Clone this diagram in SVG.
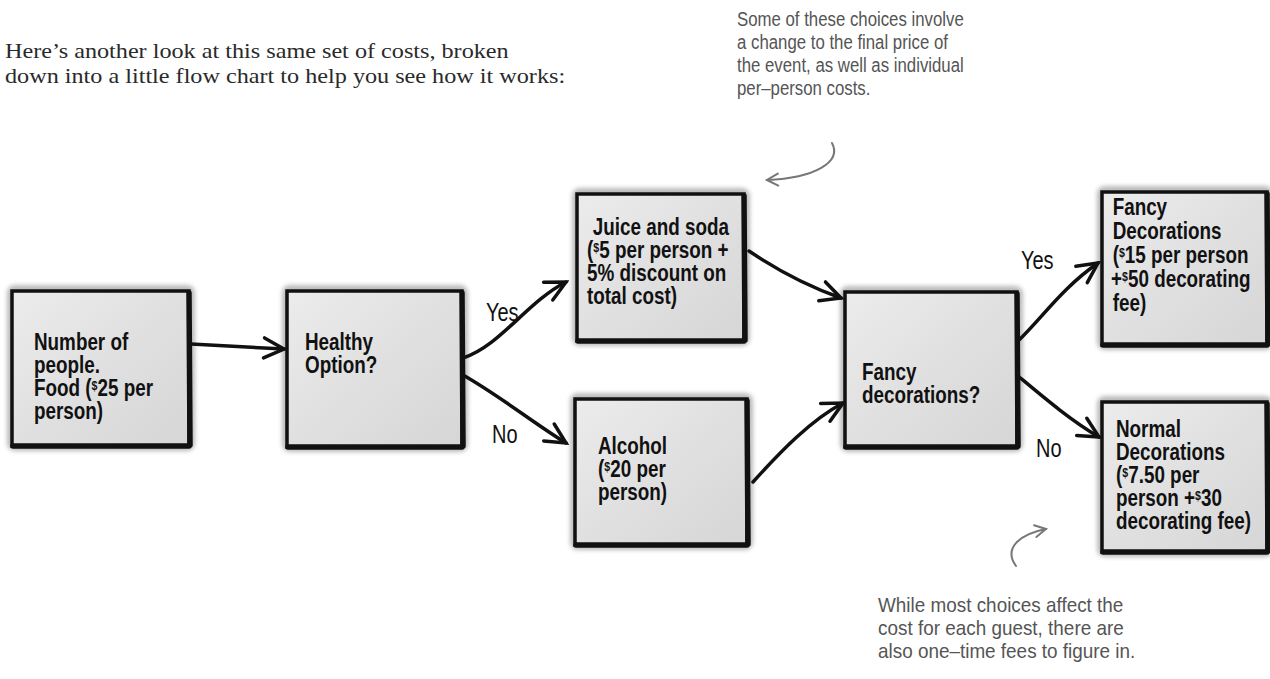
<svg xmlns="http://www.w3.org/2000/svg" width="1270" height="679" viewBox="0 0 1270 679">
<style>
.hdr{font-family:"Liberation Serif","Times New Roman",serif;font-size:22px;fill:#2a2a2a}
.note{font-family:"Liberation Sans",Arial,sans-serif;font-size:21px;fill:#555}
.lbl{font-family:"Liberation Sans",Arial,sans-serif;font-size:25px;fill:#111}
.bt{font-family:"Liberation Sans",Arial,sans-serif;font-weight:bold;font-size:23px;fill:#111}
.sh{fill:#bbb;filter:url(#blur)}
.bx{fill:url(#g);stroke:#111;stroke-width:3.5}
.edge{fill:none;stroke:#111;stroke-width:5.5;stroke-linecap:round}
.con{fill:none;stroke:#111;stroke-width:3.5;stroke-linecap:round;marker-end:url(#ah)}
.gcon{fill:none;stroke:#777;stroke-width:2;stroke-linecap:round;marker-end:url(#gah)}
.d{font-size:13px}
</style>
<defs>
<filter id="blur" x="-10%" y="-10%" width="120%" height="120%"><feGaussianBlur stdDeviation="2"/></filter>
<linearGradient id="g" x1="0" y1="0" x2="1" y2="1"><stop offset="0" stop-color="#ececec"/><stop offset="0.5" stop-color="#e0e0e0"/><stop offset="1" stop-color="#d6d6d6"/></linearGradient>
<marker id="ah" markerUnits="userSpaceOnUse" markerWidth="26" markerHeight="26" viewBox="0 0 26 26" refX="23" refY="13" orient="auto"><path d="M3,3 L23,13 L3,23" fill="none" stroke="#111" stroke-width="3.5" stroke-linecap="round" stroke-linejoin="miter"/></marker>
<marker id="gah" markerUnits="userSpaceOnUse" markerWidth="16" markerHeight="16" viewBox="0 0 16 16" refX="14" refY="8" orient="auto"><path d="M3,2 L14,8 L3,14" fill="none" stroke="#777" stroke-width="2" stroke-linecap="round"/></marker>
</defs>
<rect width="1270" height="679" fill="#fff"/>

<g id="intro" transform="translate(5,0) scale(1.1,1)">
<text class="hdr" x="0" y="58">Here’s another look at this same set of costs, broken</text>
<text class="hdr" x="0" y="83">down into a little flow chart to help you see how it works:</text>
</g>

<g id="note-top" transform="translate(737,0) scale(0.8,1)">
<text class="note" x="0" y="26">Some of these choices involve</text>
<text class="note" x="0" y="49">a change to the final price of</text>
<text class="note" x="0" y="72">the event, as well as individual</text>
<text class="note" x="0" y="95">per–person costs.</text>
</g>

<g id="note-bottom" transform="translate(878,0) scale(0.9,1)">
<text class="note" x="0" y="612">While most choices affect the</text>
<text class="note" x="0" y="635">cost for each guest, there are</text>
<text class="note" x="0" y="658">also one–time fees to figure in.</text>
</g>

<g id="n-people">
<rect class="sh" x="7" y="285" width="188" height="166" rx="8"/>
<rect class="bx" x="12" y="291" width="177" height="155"/>
<path class="edge" d="M189,293 L190,445 M13,446 L189,446"/>
<g transform="translate(34,0) scale(0.82,1)">
<text class="bt" x="0" y="350">Number of</text>
<text class="bt" x="0" y="373">people.</text>
<text class="bt" x="0" y="396">Food (<tspan class="d" dy="-6">$</tspan><tspan dy="6">25 per</tspan></text>
<text class="bt" x="0" y="419">person)</text>
</g>
</g>

<g id="n-healthy">
<rect class="sh" x="282" y="285" width="186" height="167" rx="8"/>
<rect class="bx" x="287" y="291" width="175" height="156"/>
<path class="edge" d="M462,293 L463,446 M288,447 L462,447"/>
<g transform="translate(305,0) scale(0.82,1)">
<text class="bt" x="0" y="350">Healthy</text>
<text class="bt" x="0" y="373">Option?</text>
</g>
</g>

<g id="n-juice">
<rect class="sh" x="572" y="188" width="178" height="158" rx="8"/>
<rect class="bx" x="577" y="194" width="167" height="147"/>
<path class="edge" d="M744,196 L745,340 M578,341 L744,341"/>
<g transform="translate(587,0) scale(0.82,1)">
<text class="bt" x="7" y="235">Juice and soda</text>
<text class="bt" x="0" y="258">(<tspan class="d" dy="-6">$</tspan><tspan dy="6">5 per person +</tspan></text>
<text class="bt" x="0" y="281">5% discount on</text>
<text class="bt" x="0" y="304">total cost)</text>
</g>
</g>

<g id="n-alcohol">
<rect class="sh" x="570" y="393" width="183" height="157" rx="8"/>
<rect class="bx" x="575" y="399" width="172" height="146"/>
<path class="edge" d="M747,401 L748,544 M576,545 L747,545"/>
<g transform="translate(598,0) scale(0.82,1)">
<text class="bt" x="0" y="454">Alcohol</text>
<text class="bt" x="0" y="477">(<tspan class="d" dy="-6">$</tspan><tspan dy="6">20 per</tspan></text>
<text class="bt" x="0" y="500">person)</text>
</g>
</g>

<g id="n-fancy-q">
<rect class="sh" x="840" y="286" width="183" height="166" rx="8"/>
<rect class="bx" x="845" y="292" width="172" height="155"/>
<path class="edge" d="M1017,294 L1018,446 M846,447 L1017,447"/>
<g transform="translate(862,0) scale(0.82,1)">
<text class="bt" x="0" y="380">Fancy</text>
<text class="bt" x="0" y="403">decorations?</text>
</g>
</g>

<g id="n-fancy">
<rect class="sh" x="1097" y="186" width="176" height="164" rx="8"/>
<rect class="bx" x="1102" y="192" width="165" height="153"/>
<path class="edge" d="M1267,194 L1268,344 M1103,345 L1267,345"/>
<g transform="translate(1111,0) scale(0.82,1)">
<text class="bt" x="2" y="215">Fancy</text>
<text class="bt" x="2" y="239">Decorations</text>
<text class="bt" x="2" y="263">(<tspan class="d" dy="-6">$</tspan><tspan dy="6">15 per person</tspan></text>
<text class="bt" x="0" y="287">+<tspan class="d" dy="-6">$</tspan><tspan dy="6">50 decorating</tspan></text>
<text class="bt" x="2" y="311">fee)</text>
</g>
</g>

<g id="n-normal">
<rect class="sh" x="1097" y="396" width="176" height="161" rx="8"/>
<rect class="bx" x="1102" y="402" width="165" height="150"/>
<path class="edge" d="M1267,404 L1268,551 M1103,552 L1267,552"/>
<g transform="translate(1116,0) scale(0.82,1)">
<text class="bt" x="0" y="437">Normal</text>
<text class="bt" x="0" y="460">Decorations</text>
<text class="bt" x="0" y="483">(<tspan class="d" dy="-6">$</tspan><tspan dy="6">7.50 per</tspan></text>
<text class="bt" x="0" y="506">person +<tspan class="d" dy="-6">$</tspan><tspan dy="6">30</tspan></text>
<text class="bt" x="0" y="529">decorating fee)</text>
</g>
</g>

<g id="connectors">
<path class="con" d="M191,344 L284,349"/>
<path class="con" d="M463,358 C500,346 527,302 566,282"/>
<path class="con" d="M463,375 C500,396 532,422 566,443"/>
<path class="con" d="M749,251 C777,270 807,286 841,298"/>
<path class="con" d="M753,482 C781,451 811,420 843,403"/>
<path class="con" d="M1018,341 C1042,318 1062,288 1098,263"/>
<path class="con" d="M1018,376 C1042,396 1070,420 1099,437"/>
<path class="gcon" d="M832,143 C842,162 815,178 767,180"/>
<path class="gcon" d="M1016,566 C1003,548 1020,534 1046,529"/>
<g transform="translate(486,0) scale(0.8,1)"><text class="lbl" x="0" y="321">Yes</text></g>
<g transform="translate(492,0) scale(0.8,1)"><text class="lbl" x="0" y="443">No</text></g>
<g transform="translate(1021,0) scale(0.8,1)"><text class="lbl" x="0" y="269">Yes</text></g>
<g transform="translate(1036,0) scale(0.8,1)"><text class="lbl" x="0" y="457">No</text></g>
</g>
</svg>
